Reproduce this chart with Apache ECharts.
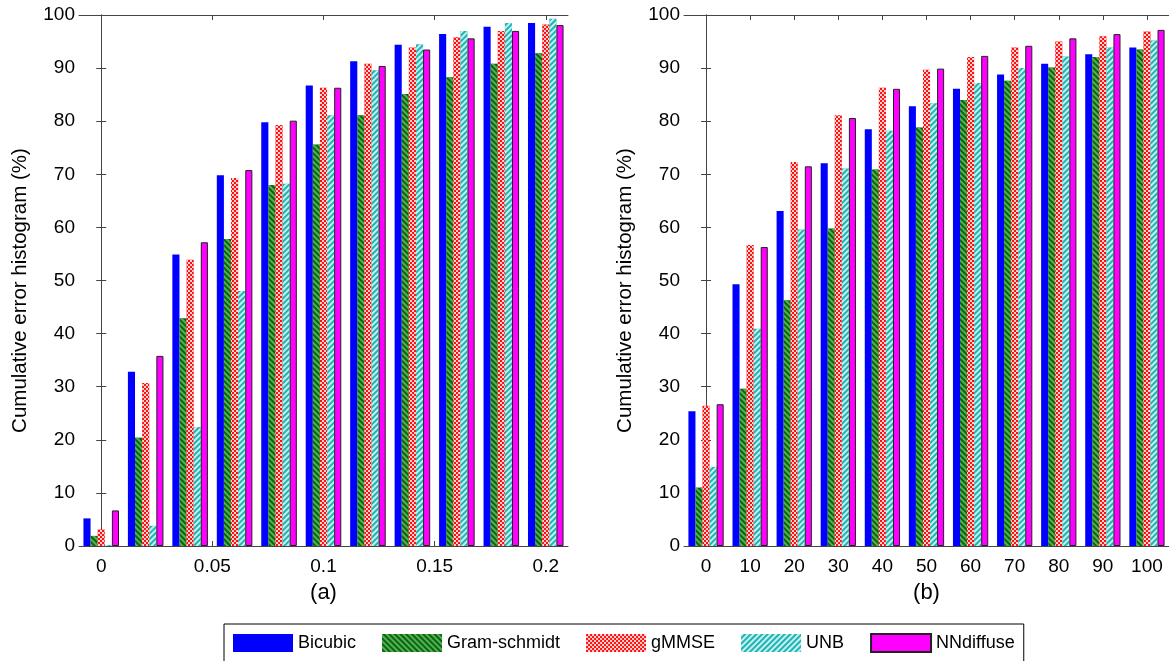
<!DOCTYPE html>
<html>
<head>
<meta charset="utf-8">
<title>Cumulative error histogram</title>
<script src="https://cdn.jsdelivr.net/npm/echarts@6/dist/echarts.min.js"></script>
<style>
  html, body { margin: 0; padding: 0; background: #fff; }
  #chart { width: 1169px; height: 661px; }
</style>
</head>
<body>
<div id="chart"></div>
<script>
// categorias (centros de los grupos) y ticks de cada panel
const leftCats = ['0', '0.02', '0.04', '0.06', '0.08', '0.1', '0.12', '0.14', '0.16', '0.18', '0.2'];
const rightCats = ['0', '10', '20', '30', '40', '50', '60', '70', '80', '90', '100'];
const leftTicks = [0, 0.05, 0.1, 0.15, 0.2];
const rightTicks = [0, 10, 20, 30, 40, 50, 60, 70, 80, 90, 100];

const methods = ['Bicubic', 'Gram-schmidt', 'gMMSE', 'UNB', 'NNdiffuse'];

// panel (a)
const leftBicubic = [5.2, 32.8, 54.9, 69.8, 79.8, 86.7, 91.3, 94.4, 96.4, 97.8, 98.5];
const leftGram = [1.9, 20.4, 42.9, 57.8, 68.0, 75.6, 81.1, 85.1, 88.3, 90.8, 92.8];
const leftGmmse = [3.1, 30.7, 53.9, 69.3, 79.3, 86.3, 90.8, 93.9, 95.8, 97.0, 98.2];
const leftUnb = [0.2, 3.8, 22.4, 48.0, 68.2, 81.1, 89.6, 94.5, 97.0, 98.5, 99.3];
const leftNn = [6.7, 35.8, 57.2, 70.8, 80.1, 86.3, 90.4, 93.5, 95.6, 97.0, 98.1];

// panel (b)
const rightBicubic = [25.4, 49.3, 63.1, 72.1, 78.5, 82.8, 86.1, 88.8, 90.8, 92.6, 93.9];
const rightGram = [11.0, 29.6, 46.3, 59.8, 70.9, 78.8, 84.0, 87.6, 90.1, 92.1, 93.5];
const rightGmmse = [26.4, 56.7, 72.3, 81.1, 86.3, 89.7, 92.1, 93.9, 95.0, 96.0, 96.9];
const rightUnb = [14.9, 40.9, 59.6, 71.1, 78.2, 83.4, 87.2, 90.0, 92.2, 93.9, 95.2];
const rightNn = [26.7, 56.3, 71.5, 80.6, 86.1, 89.9, 92.3, 94.2, 95.6, 96.4, 97.2];

const FONT = 'Liberation Sans, Arial, sans-serif';
const AXIS_COLOR = '#444';

// estilos de relleno de cada metodo (patrones tipo MATLAB)
const styles = [
  { color: '#0000ff' },
  {
    color: '#0d6410',
    decal: {
      symbol: 'rect', symbolSize: 1, color: '#52b152',
      dashArrayX: [1, 0], dashArrayY: [2, 2], rotation: Math.PI / 4
    }
  },
  {
    color: '#ff1010',
    decal: {
      symbol: 'rect', symbolSize: 1, color: '#ffd0d0',
      dashArrayX: [[2, 2], [0, 2, 2, 0]], dashArrayY: [2, 0], rotation: 0
    }
  },
  {
    color: '#1fb4b4',
    decal: {
      symbol: 'rect', symbolSize: 1, color: '#c4f0f0',
      dashArrayX: [1, 0], dashArrayY: [2, 2], rotation: -Math.PI / 4
    }
  },
  { color: '#ff00ff', borderColor: '#222', borderWidth: 1 }
];

function makeSeries(values, gridIdx) {
  return values.map((data, i) => ({
    name: methods[i],
    type: 'bar',
    xAxisIndex: gridIdx * 3,
    yAxisIndex: gridIdx * 2,
    data: data,
    barGap: '0%',
    barCategoryGap: '20%',
    itemStyle: styles[i],
    emphasis: { disabled: true },
    animation: false
  }));
}

function xAxes(gridIdx, cats, min, max, ticks, label) {
  return [
    // eje de categorias oculto, solo para colocar las barras
    { type: 'category', gridIndex: gridIdx, data: cats, show: false },
    {
      type: 'value', gridIndex: gridIdx, position: 'bottom', min: min, max: max,
      name: label, nameLocation: 'middle', nameGap: 36,
      nameTextStyle: { fontFamily: FONT, fontSize: 22, color: '#000' },
      axisLine: { show: true, lineStyle: { color: AXIS_COLOR } },
      axisTick: { show: true, inside: true, length: 5, customValues: ticks, lineStyle: { color: AXIS_COLOR } },
      axisLabel: { customValues: ticks, margin: 11, fontFamily: FONT, fontSize: 19, color: '#000' },
      splitLine: { show: false }
    },
    {
      type: 'value', gridIndex: gridIdx, position: 'top', min: min, max: max,
      axisLine: { show: true, lineStyle: { color: AXIS_COLOR } },
      axisTick: { show: true, inside: true, length: 5, customValues: ticks, lineStyle: { color: AXIS_COLOR } },
      axisLabel: { show: false },
      splitLine: { show: false }
    }
  ];
}

function yAxes(gridIdx) {
  return [
    {
      type: 'value', gridIndex: gridIdx, position: 'left', min: 0, max: 100, interval: 10,
      name: 'Cumulative error histogram (%)', nameLocation: 'middle', nameGap: 48,
      nameTextStyle: { fontFamily: FONT, fontSize: 20.5, color: '#000', padding: [0, 20, 0, 0] },
      axisLine: { show: true, lineStyle: { color: AXIS_COLOR } },
      axisTick: { show: true, inside: true, length: 5, lineStyle: { color: AXIS_COLOR } },
      axisLabel: { margin: 4, fontFamily: FONT, fontSize: 19, color: '#000' },
      splitLine: { show: false }
    },
    {
      type: 'value', gridIndex: gridIdx, position: 'right', min: 0, max: 100, interval: 10,
      axisLine: { show: true, lineStyle: { color: AXIS_COLOR } },
      axisTick: { show: true, inside: true, length: 5, lineStyle: { color: AXIS_COLOR } },
      axisLabel: { show: false },
      splitLine: { show: false }
    }
  ];
}

const chart = echarts.init(document.getElementById('chart'), null, { renderer: 'canvas' });

chart.setOption({
  backgroundColor: '#fff',
  animation: false,
  aria: { enabled: false },
  grid: [
    { left: 79, top: 15, width: 489, height: 531 },
    { left: 684, top: 15, width: 489, height: 531 }
  ],
  xAxis: [
    ...xAxes(0, leftCats, -0.01, 0.21, leftTicks, '(a)'),
    ...xAxes(1, rightCats, -5, 105, rightTicks, '(b)')
  ],
  yAxis: [...yAxes(0), ...yAxes(1)],
  legend: {
    data: methods,
    left: 224,
    top: 624,
    orient: 'horizontal',
    itemWidth: 60,
    itemHeight: 18,
    itemGap: 26,
    padding: [9, 9, 9, 9],
    borderColor: '#000',
    borderWidth: 1,
    icon: 'rect',
    textStyle: { fontFamily: FONT, fontSize: 18, color: '#000' }
  },
  series: [
    ...makeSeries([leftBicubic, leftGram, leftGmmse, leftUnb, leftNn], 0),
    ...makeSeries([rightBicubic, rightGram, rightGmmse, rightUnb, rightNn], 1)
  ]
});
</script>
</body>
</html>
